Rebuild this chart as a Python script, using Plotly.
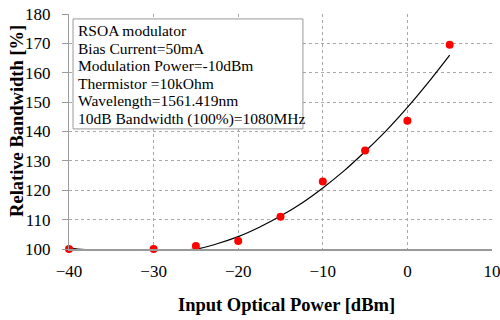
import plotly.graph_objects as go

# Measured points
power_dbm = [-40, -30, -25, -20, -15, -10, -5, 0, 5]
rel_bw = [100, 100, 101, 102.7, 111, 123, 133.5, 143.7, 169.5]

# Trend line
fit_x = [-40, -39, -25, -22.5, -20, -17.5, -15, -12.5, -10, -7.5, -5, -2.5, 0, 2.5, 5]
fit_y = [100.6, 100, 100, 101.8, 104.2, 107.4, 111.2, 115.6, 120.8, 126.6, 133.2, 140.3, 148.2, 156.8, 166]

x_ticks = [-40, -30, -20, -10, 0, 10]
y_ticks = [100, 110, 120, 130, 140, 150, 160, 170, 180]

x_title = "Input Optical Power [dBm]"
y_title = "Relative Bandwidth [%]"

info_lines = [
    "RSOA modulator",
    "Bias Current=50mA",
    "Modulation Power=-10dBm",
    "Thermistor =10kOhm",
    "Wavelength=1561.419nm",
    "10dB Bandwidth (100%)=1080MHz",
]

serif = "Liberation Serif, Times New Roman, serif"

fig = go.Figure()
fig.add_trace(go.Scatter(x=fit_x, y=fit_y, mode="lines", line=dict(color="black", width=1.2, shape="spline"),
                         hoverinfo="skip", showlegend=False))
fig.add_trace(go.Scatter(x=power_dbm, y=rel_bw, mode="markers",
                         marker=dict(color="#ff0000", size=8), showlegend=False, cliponaxis=False))

# info box
fig.add_shape(type="rect", xref="paper", yref="paper", x0=0.0095, x1=0.553, y0=0.511, y1=0.979,
              line=dict(color="#999999", width=1), fillcolor="white", layer="above")
line_y = [0.928, 0.853, 0.779, 0.704, 0.630, 0.555]
for txt, yy in zip(info_lines, line_y):
    fig.add_annotation(xref="paper", yref="paper", x=0.016, y=yy, xanchor="left", yanchor="middle",
                       text=txt, showarrow=False, font=dict(family=serif, size=15.5, color="black"))

# axis titles
fig.add_annotation(xref="paper", yref="paper", x=0.515, y=-0.238, xanchor="center", yanchor="middle",
                   text=f"<b>{x_title}</b>", showarrow=False, font=dict(family=serif, size=18.5, color="black"))
fig.add_annotation(xref="paper", yref="paper", x=-0.1229, y=0.545, xanchor="center", yanchor="middle",
                   textangle=-90, text=f"<b>{y_title}</b>", showarrow=False,
                   font=dict(family=serif, size=18.5, color="black"))

fig.update_layout(
    width=500, height=320,
    margin=dict(l=69, r=8, t=14, b=71),
    paper_bgcolor="white", plot_bgcolor="white",
    font=dict(family=serif, color="black"),
    xaxis=dict(range=[-40, 10], tickvals=x_ticks, ticks="", showline=True, linecolor="#9a9a9a", linewidth=2,
               showgrid=True, gridcolor="#a8a8a8", griddash="dot", gridwidth=1, automargin=False,
               zeroline=False, tickfont=dict(size=17), ticklabelstandoff=6, ticklabeloverflow="allow"),
    yaxis=dict(range=[100, 180], tickvals=y_ticks, ticks="outside", ticklen=6, tickcolor="#9a9a9a",
               showline=True, linecolor="#9a9a9a", linewidth=1, automargin=False,
               showgrid=True, gridcolor="#a8a8a8", griddash="dot", gridwidth=1, zeroline=False,
               tickfont=dict(size=17), ticklabelstandoff=8, ticklabeloverflow="allow"),
)

fig.write_html("out.html", config={"displayModeBar": False},
               post_script="document.body.style.margin='0';document.body.style.overflow='hidden';")
